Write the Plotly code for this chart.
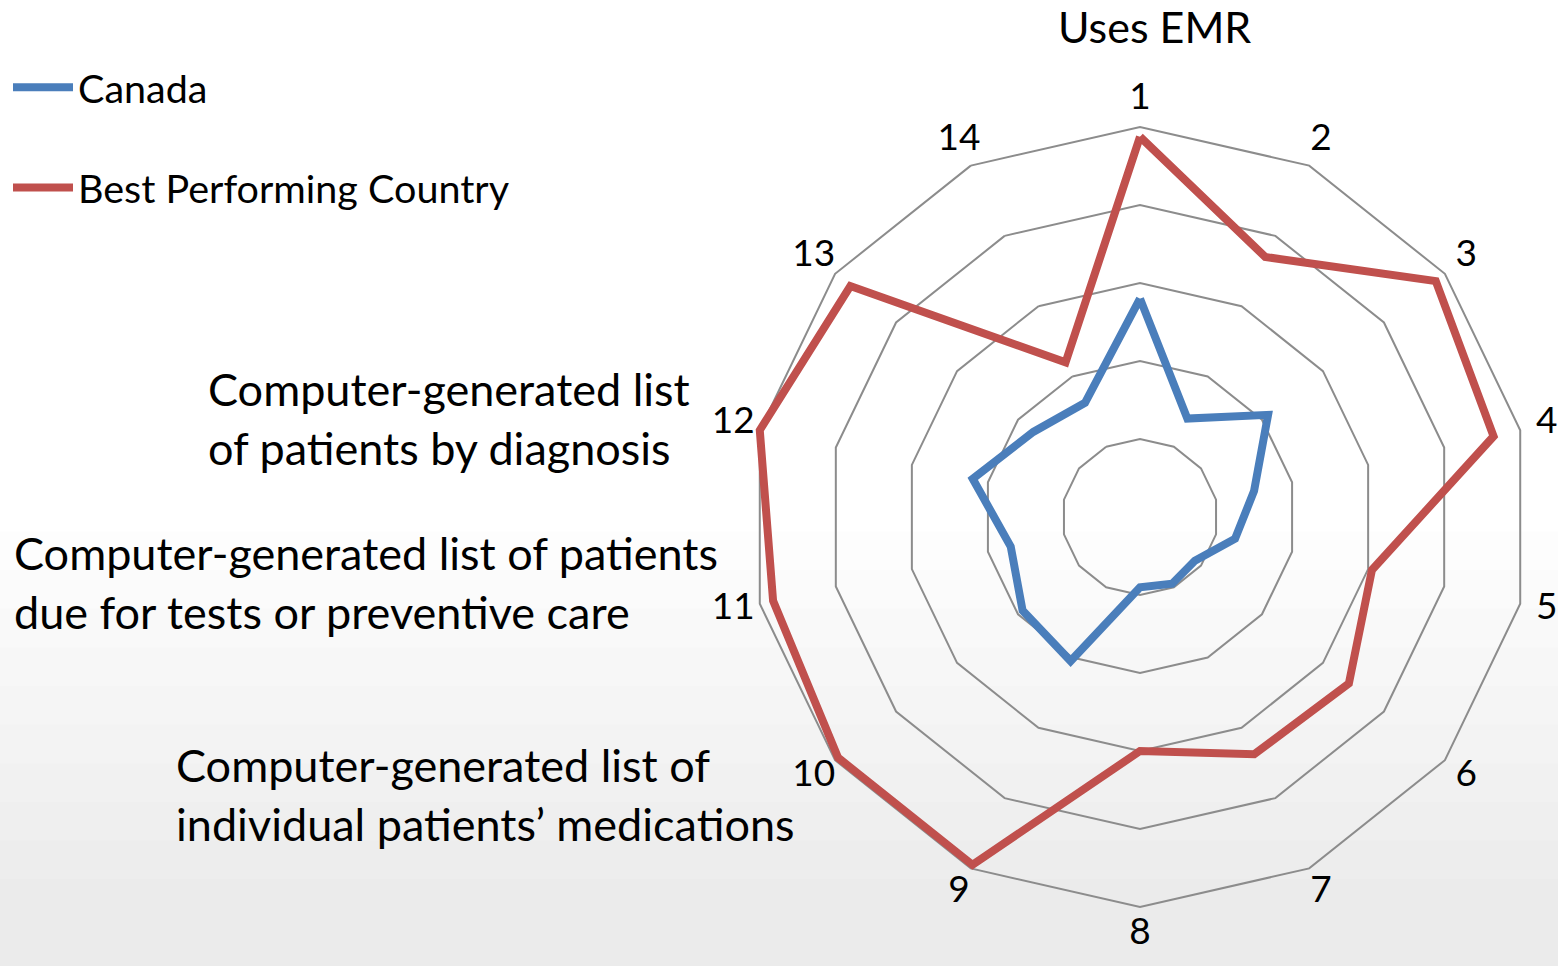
import plotly.graph_objects as go

CATEGORIES = [str(i) for i in range(1, 15)]
CANADA = [56, 28, 42, 30, 25, 18, 19, 18, 41, 38.5, 34, 44, 35, 32.5]
BEST = [97.5, 74, 97, 93, 61, 68.5, 67.5, 60, 99, 99, 96.5, 100, 95, 44]
RADIAL_TICKS = [20, 40, 60, 80, 100]
R_MAX = 107  # room outside the 100 ring for the category numbers

BLUE = "#4A7EBB"
RED = "#C0504D"
GRID = "#8C8C8C"
FONT = "Lato, 'Open Sans', sans-serif"

W, H = 1558, 966
# outer (100) ring: centre (1140, 517) px, radius 390 px
CX, CY, R100 = 1140, 517, 390
RPX = R100 * R_MAX / 100


def closed(values):
    return values + values[:1]


fig = go.Figure()
fig.add_trace(go.Scatterpolar(
    r=closed(CANADA), theta=closed(CATEGORIES), mode="lines", name="Canada",
    line={"color": BLUE, "width": 8}, legendgroup="a",
))
fig.add_trace(go.Scatterpolar(
    r=closed(BEST), theta=closed(CATEGORIES), mode="lines", name="Best Performing Country",
    line={"color": RED, "width": 8}, legendgroup="b",
))
fig.add_trace(go.Scatterpolar(
    r=[R_MAX] * len(CATEGORIES), theta=CATEGORIES, text=CATEGORIES, mode="text",
    textfont={"size": 37, "color": "black", "family": FONT},
    cliponaxis=False, showlegend=False, hoverinfo="skip",
))

# soft grey shading toward the bottom of the slide
for i in range(10):
    fig.add_shape(
        type="rect", xref="paper", yref="paper", x0=0, x1=1, y0=0, y1=0.45 - i * 0.04,
        fillcolor="rgba(0,0,0,0.008)", line={"width": 0}, layer="below",
    )

notes = [
    ("Uses EMR", 1154, 27, "center", 43),
    ("Computer-generated list<br>of patients by diagnosis", 206, 418, "left", 45),
    ("Computer-generated list of patients<br>due for tests or preventive care", 12, 582, "left", 45),
    ("Computer-generated list of<br>individual patients’ medications", 174, 794, "left", 45),
]
for text, x, y, align, size in notes:
    fig.add_annotation(
        text=text, x=x / W, y=1 - y / H, xref="paper", yref="paper",
        xanchor=align, yanchor="middle", align=align, showarrow=False,
        font={"size": size, "color": "black", "family": FONT},
    )

fig.update_layout(
    width=W, height=H,
    margin={"l": 0, "r": 0, "t": 0, "b": 0},
    paper_bgcolor="white",
    font={"family": FONT, "color": "black", "size": 38},
    polar={
        "domain": {
            "x": [(CX - RPX) / W, min((CX + RPX) / W, 1)],
            "y": [(H - CY - RPX) / H, (H - CY + RPX) / H],
        },
        "bgcolor": "rgba(0,0,0,0)",
        "gridshape": "linear",
        "radialaxis": {
            "range": [0, R_MAX], "tickvals": RADIAL_TICKS, "showticklabels": False,
            "ticks": "", "showline": False, "gridcolor": GRID, "gridwidth": 1.5,
        },
        "angularaxis": {
            "direction": "clockwise", "rotation": 90, "showgrid": False,
            "showline": False, "ticks": "", "showticklabels": False,
        },
    },
    legend={
        "x": 8 / W, "y": 1 - 55 / H, "xanchor": "left", "yanchor": "top",
        "traceorder": "grouped", "tracegroupgap": 46,
        "font": {"size": 39.5, "color": "black"}, "bgcolor": "rgba(0,0,0,0)",
        "itemwidth": 60,
    },
)

# drop the page's default body margin so the figure fills the window exactly
fig.write_html(
    "out.html",
    config={"displayModeBar": False},
    post_script="document.body.style.margin = '0';",
)
